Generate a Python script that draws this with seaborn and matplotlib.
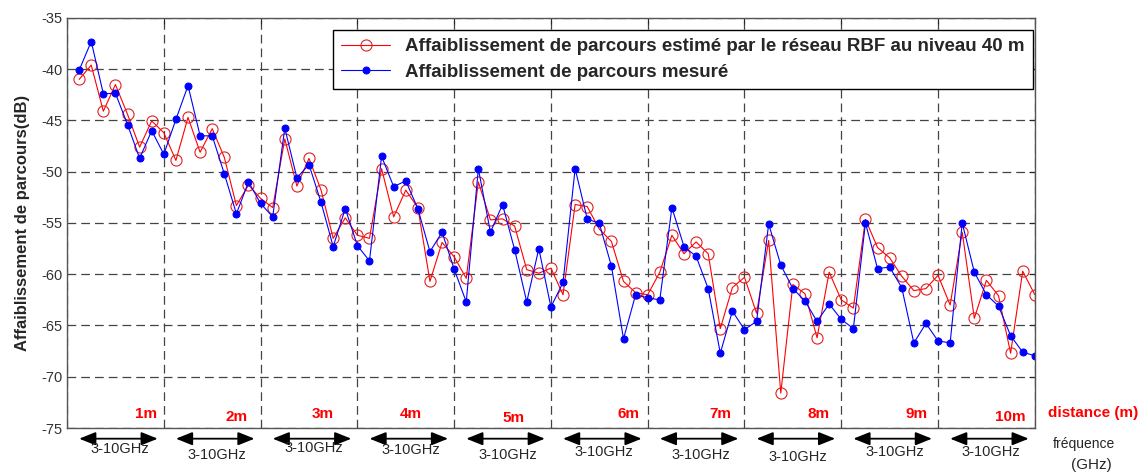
import matplotlib
matplotlib.use("Agg")
import matplotlib.pyplot as plt
import seaborn as sns
import numpy as np

sns.set_style("white")
plt.rcParams["font.family"] = ["Liberation Sans", "DejaVu Sans"]
plt.rcParams["axes.unicode_minus"] = False

# 10 distances x 8 frequency samples (3-10 GHz) = 80 points
point_index = np.arange(1, 81)

measured = [
    -40.1, -37.3, -42.4, -42.35, -45.4, -48.7, -46.0, -48.3,
    -44.9, -41.6, -46.5, -46.5, -50.2, -54.1, -51.0, -53.1,
    -54.4, -45.75, -50.6, -49.3, -53.0, -57.3, -53.6, -57.2,
    -58.7, -48.5, -51.45, -50.9, -53.6, -57.8, -55.9, -59.5,
    -62.7, -49.7, -55.9, -53.2, -57.6, -62.7, -57.5, -63.2,
    -60.8, -49.7, -54.6, -55.05, -59.2, -66.3, -62.0, -62.3,
    -62.5, -53.5, -57.3, -58.25, -61.4, -67.7, -63.6, -65.4,
    -64.6, -55.1, -59.1, -61.4, -62.6, -64.6, -62.9, -64.4,
    -65.3, -55.0, -59.45, -59.3, -61.3, -66.7, -64.8, -66.5,
    -66.7, -55.0, -59.8, -62.0, -63.1, -66.0, -67.6, -67.95,
]

estimated = [
    -41.0, -39.6, -44.1, -41.5, -44.4, -47.6, -45.05, -46.2,
    -48.9, -44.7, -48.1, -45.8, -48.6, -53.3, -51.3, -52.6,
    -53.5, -46.8, -51.4, -48.7, -51.8, -56.5, -54.5, -56.2,
    -56.5, -49.7, -54.4, -51.8, -53.5, -60.7, -56.9, -58.3,
    -60.4, -51.0, -54.7, -54.6, -55.3, -59.55, -59.9, -59.4,
    -62.0, -53.2, -53.4, -55.6, -56.8, -60.7, -61.8, -62.0,
    -59.8, -56.2, -58.0, -56.85, -58.0, -65.3, -61.3, -60.3,
    -63.8, -56.7, -71.6, -61.0, -61.9, -66.2, -59.8, -62.5,
    -63.3, -54.65, -57.4, -58.4, -60.2, -61.6, -61.4, -60.1,
    -63.0, -55.9, -64.3, -60.6, -62.1, -67.7, -59.7, -62.0,
]

distance_labels = ["1m", "2m", "3m", "4m", "5m", "6m", "7m", "8m", "9m", "10m"]
band_label = "3-10GHz"

fig = plt.figure(figsize=(11.48, 4.73), dpi=100)
ax = fig.add_axes([0.0584, 0.0951, 0.843, 0.867])

sns.lineplot(
    x=point_index, y=estimated, ax=ax,
    color="red", lw=0.8, marker="o", markersize=8,
    markerfacecolor="none", markeredgecolor="#e02020", markeredgewidth=0.8,
    label="Affaiblissement de parcours estimé par le réseau RBF au niveau 40 m"
)
sns.lineplot(
    x=point_index, y=measured, ax=ax,
    color="blue", lw=0.8, marker="o", markersize=5,
    markerfacecolor="blue", markeredgecolor="blue",
    label="Affaiblissement de parcours mesuré"
)

ax.set_xlim(0, 80)
ax.set_ylim(-75, -35)
ax.set_xticks(np.arange(0, 81, 8))
ax.set_xticklabels([])
ax.set_yticks(np.arange(-75, -34, 5))
ax.tick_params(axis="both", direction="in", top=True, right=True,
               length=4, labelsize=10.5, labelcolor="#333333")
ax.grid(True, color="#444444", linestyle=(0, (7, 4)), lw=0.9)
for side in ax.spines.values():
    side.set_color("#555555")
    side.set_linewidth(1.0)

ax.set_xlabel("")
ax.set_ylabel("Affaiblissement de parcours(dB)", fontsize=12,
              fontweight="bold", labelpad=8)

leg = ax.legend(
    loc="upper right", bbox_to_anchor=(0.998, 0.971), borderaxespad=0,
    prop={"weight": "bold", "size": 13.5}, handlelength=2.6,
    fancybox=False, framealpha=1, edgecolor="black", labelspacing=0.45,
    borderpad=0.45
)
leg.get_frame().set_linewidth(1.0)

# distance labels inside the plot
dist_x = [6.5, 14.0, 21.1, 28.4, 36.9, 46.4, 54.0, 62.1, 70.2, 78.0]
dist_y = [-73.6, -73.95, -73.6, -73.6, -74.0, -73.65, -73.65, -73.65, -73.65, -73.95]
for lab, xx, yy in zip(distance_labels, dist_x, dist_y):
    ax.text(xx, yy, lab, color="red", fontsize=11, fontweight="bold",
            ha="center", va="center")

# frequency arrows under each distance block
text_y = [-0.052, -0.066, -0.049, -0.054, -0.066, -0.059, -0.066, -0.071, -0.059, -0.059]
for k in range(10):
    x0 = 8 * k + 1.0
    x1 = min(8 * k + 7.5, 80.0)
    ax.annotate(
        "", xy=(x1, -0.026), xytext=(x0, -0.026),
        xycoords=("data", "axes fraction"), textcoords=("data", "axes fraction"),
        arrowprops=dict(arrowstyle="<|-|>,head_length=1.0,head_width=0.4",
                        color="black", lw=1.3, shrinkA=0, shrinkB=0),
        annotation_clip=False
    )
    ax.text(8 * k + 4.4, text_y[k], band_label, fontsize=10.5,
            ha="center", va="center", transform=ax.get_xaxis_transform(),
            clip_on=False)

fig.text(0.952, 0.127, "distance (m)", color="red", fontsize=11,
         fontweight="bold", ha="center", va="center")
fig.text(0.944, 0.061, "fréquence", fontsize=10, ha="center", va="center")
fig.text(0.951, 0.017, "(GHz)", fontsize=11, ha="center", va="center")

fig.savefig("out.png", dpi=100)
